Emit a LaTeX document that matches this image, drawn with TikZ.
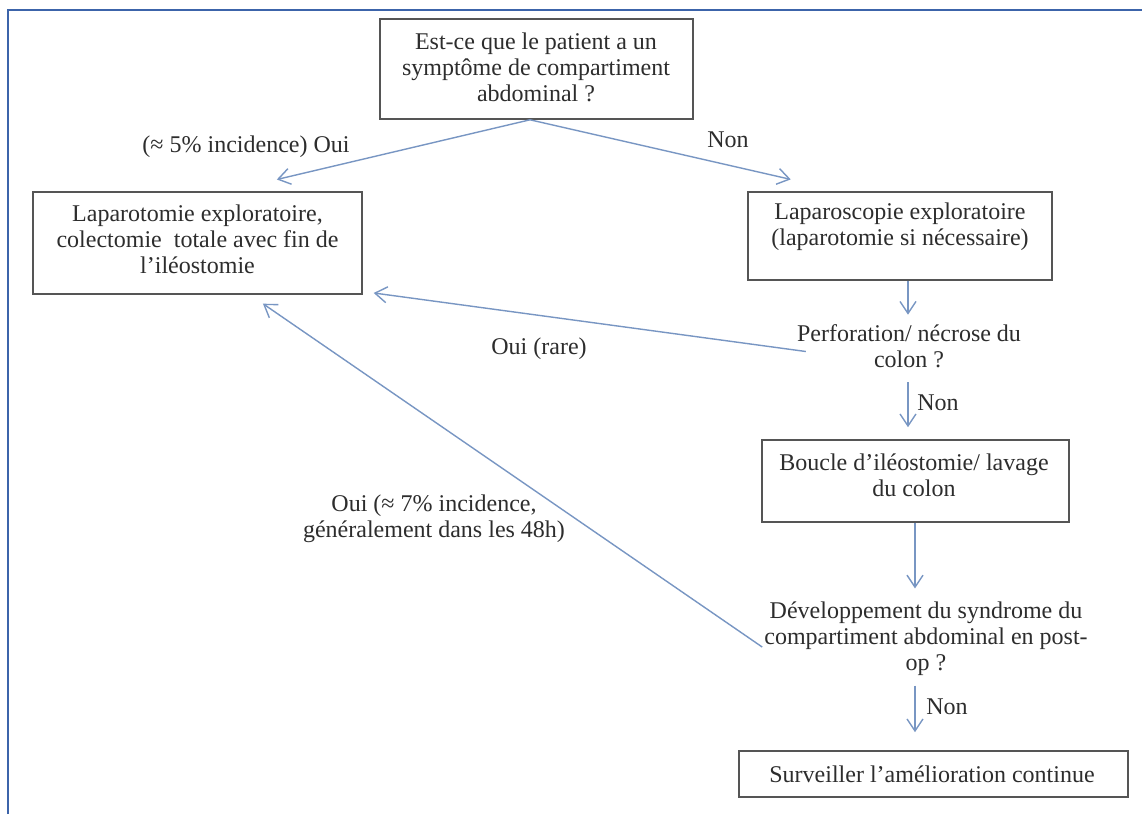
\documentclass[tikz,border=0pt]{standalone}
\usepackage{fontspec}
\setmainfont{Liberation Serif}
\usetikzlibrary{arrows.meta}
\definecolor{arrowblue}{RGB}{120,150,195}
\definecolor{frameblue}{RGB}{60,100,170}
\definecolor{boxgray}{RGB}{85,85,85}
\definecolor{txtgray}{RGB}{45,45,45}
\begin{document}
\begin{tikzpicture}[x=1pt,y=-1pt,
  box/.style={draw=boxgray, line width=1.6pt, inner sep=0pt},
  txt/.style={inner sep=0pt, align=center, text=txtgray, font=\fontsize{24}{26}\selectfont},
  arr/.style={draw=arrowblue, line width=1.4pt, -{Straight Barb[length=12pt,width=16pt]}},
  frameline/.style={draw=frameblue, line width=2pt}]
\useasboundingbox (0,0) rectangle (1142,814);
\fill[white] (0,0) rectangle (1142,814);
\draw[frameline] (8,814) -- (8,10) -- (1142,10);

% boxes
\node[box, minimum width=313pt, minimum height=100pt] (top) at (536.5,69) {};
\node[box, minimum width=329pt, minimum height=102pt] (left) at (197.5,243) {};
\node[box, minimum width=304pt, minimum height=88pt] (lap) at (900,236) {};
\node[box, minimum width=307pt, minimum height=82pt] (bouc) at (915.5,481) {};
\node[box, minimum width=389pt, minimum height=46pt] (surv) at (933.5,774) {};

% texts
\node[txt] (topT) at (536,67.5) {Est-ce que le patient a un\\symptôme de compartiment\\abdominal ?};
\node[txt] (leftT) at (197.5,239) {Laparotomie exploratoire,\\colectomie\ \ totale avec fin de\\l’iléostomie};
\node[txt] (lapT) at (900,226.5) {Laparoscopie exploratoire\\(laparotomie si nécessaire)};
\node[txt] (perf) at (909,346.5) {Perforation/ nécrose du\\colon ?};
\node[txt] (boucT) at (914,475.5) {Boucle d’iléostomie/ lavage\\du colon};
\node[txt] (dev) at (926,639) {Développement du syndrome du\\compartiment abdominal en post-\\op ?};
\node[txt] (survT) at (932,774) {Surveiller l’amélioration continue};

% labels
\node[txt] (l1) at (246,147) {(≈ 5\% incidence) Oui};
\node[txt] (l2) at (728,140) {Non};
\node[txt] (l3) at (539,349) {Oui (rare)};
\node[txt] (l4) at (938,403) {Non};
\node[txt] (l5) at (434,519) {Oui (≈ 7\% incidence,\\généralement dans les 48h)};
\node[txt] (l6) at (947,707) {Non};

% connectors
\draw[arr, shorten >=51pt] ([xshift=-6.5pt]top.south) -- ([xshift=29.7pt]left.north);
\draw[arr, shorten >=53pt] ([xshift=-6.5pt]top.south) -- ([xshift=-57.6pt]lap.north);
\draw[arr, shorten >=10pt] ([xshift=8pt]lap.south) -- ([xshift=8pt]lap.south |- perf.north);
\draw[arr, shorten >=11pt] ([shift={(9,5)}]perf.west) -- ([shift={(0,48.5)}]left.east);
\draw[arr, shorten <=14pt, shorten >=12pt] ([xshift=-1pt]perf.south) -- ([xshift=-1pt]perf.south |- bouc.north);
\draw[arr, shorten >=13.5pt] ([xshift=-0.5pt]bouc.south) -- ([xshift=-0.5pt]bouc.south |- dev.north);
\draw[arr, shorten >=15.7pt] ([shift={(-2,8)}]dev.west) -- ([xshift=52.5pt]left.south);
\draw[arr, shorten <=9.5pt, shorten >=18pt] ([xshift=-11pt]dev.south) -- ([xshift=-11pt]dev.south |- surv.north);
\end{tikzpicture}
\end{document}
